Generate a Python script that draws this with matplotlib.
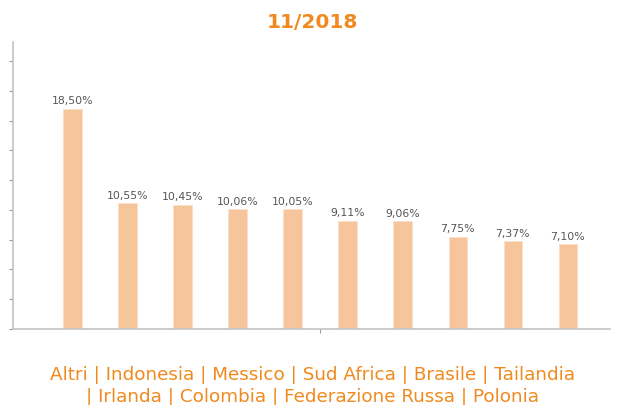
import matplotlib
matplotlib.use('Agg')
import matplotlib.pyplot as plt

# dati del grafico
paesi = ['Altri', 'Indonesia', 'Messico', 'Sud Africa', 'Brasile', 'Tailandia',
         'Irlanda', 'Colombia', 'Federazione Russa', 'Polonia']
valori = [18.50, 10.55, 10.45, 10.06, 10.05, 9.11, 9.06, 7.75, 7.37, 7.10]
etichette = ['18,50%', '10,55%', '10,45%', '10,06%', '10,05%', '9,11%', '9,06%',
             '7,75%', '7,37%', '7,10%']
titolo = '11/2018'

arancio = '#F08A1E'
barra = '#F7C59B'
grigio = '#C4C4C4'

fig = plt.figure(figsize=(6.24, 4.06), dpi=100)
ax = fig.add_axes([13 / 624, 76 / 406, 597 / 624, 287 / 406])

x = list(range(len(paesi)))
ax.bar(x, valori, width=0.33, color=barra, edgecolor='#FBE0CB', linewidth=0.6)
for xi, v, lab in zip(x, valori, etichette):
    ax.text(xi, v + 0.3, lab, ha='center', va='bottom', fontsize=7.8, color='#555555')

ax.set_xlim(-1.08, 9.77)
ax.set_ylim(0, 24.1)
ax.set_yticks([2.5 * i for i in range(10)])
ax.set_yticklabels([])
ax.set_xticks([4.5])
ax.set_xticklabels([])
ax.tick_params(axis='both', length=3, width=0.8, color='#999999')

for s in ['top', 'right']:
    ax.spines[s].set_visible(False)
for s in ['left', 'bottom']:
    ax.spines[s].set_color(grigio)
    ax.spines[s].set_linewidth(1.2)

fig.text(0.5, 1 - 22 / 406, titolo, ha='center', va='center', fontsize=14.5,
         fontweight='bold', color=arancio)
fig.text(0.5, 1 - 375 / 406, ' | '.join(paesi[:6]), ha='center', va='center',
         fontsize=13.2, color=arancio)
fig.text(0.5, 1 - 397 / 406, '| ' + ' | '.join(paesi[6:]), ha='center', va='center',
         fontsize=13.2, color=arancio)

plt.savefig('out.png', dpi=100)
